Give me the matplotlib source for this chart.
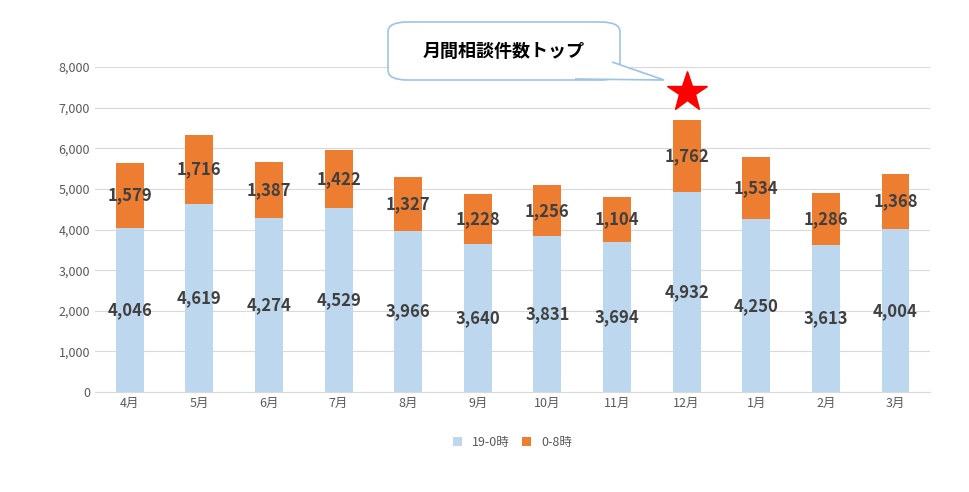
import matplotlib
matplotlib.use("Agg")
import matplotlib.pyplot as plt
from matplotlib.patches import FancyBboxPatch, Polygon
import numpy as np

plt.rcParams["font.family"] = ["Noto Sans CJK JP", "DejaVu Sans"]

months = ["4月", "5月", "6月", "7月", "8月", "9月", "10月", "11月", "12月", "1月", "2月", "3月"]
evening = [4046, 4619, 4274, 4529, 3966, 3640, 3831, 3694, 4932, 4250, 3613, 4004]
night = [1579, 1716, 1387, 1422, 1327, 1228, 1256, 1104, 1762, 1534, 1286, 1368]

BLUE = "#BDD7EE"
ORANGE = "#ED7D31"
TXT = "#404040"

fig = plt.figure(figsize=(9.69, 4.92), dpi=100)
ax = fig.add_axes([0.098, 0.203, 0.862, 0.661])
x = np.arange(len(months))
ax.bar(x, evening, width=0.4, color=BLUE, label="19-0時", zorder=2)
ax.bar(x, night, width=0.4, bottom=evening, color=ORANGE, label="0-8時", zorder=2)

for xi, e, n in zip(x, evening, night):
    ax.text(xi, e / 2, f"{e:,}", ha="center", va="center", fontsize=12, fontweight="bold", color=TXT)
    ax.text(xi, e + n / 2, f"{n:,}", ha="center", va="center", fontsize=12, fontweight="bold", color=TXT)

ax.set_ylim(0, 8000)
ax.set_xlim(-0.5, len(months) - 0.5)
ax.set_yticks(range(0, 8001, 1000))
ax.set_yticklabels([f"{v:,}" for v in range(0, 8001, 1000)], fontsize=9, color="#595959")
ax.set_xticks(x)
ax.set_xticklabels(months, fontsize=9, color="#595959")
ax.tick_params(length=0)
ax.grid(axis="y", color="#D9D9D9", linewidth=0.8, zorder=0)
for s in ["top", "right", "left"]:
    ax.spines[s].set_visible(False)
ax.spines["bottom"].set_color("#D9D9D9")

# star above the top month
top = int(np.argmax(np.array(evening) + np.array(night)))
ax.plot(top, evening[top] + night[top] + 700, marker="*", color="red", markersize=30, clip_on=False, zorder=5)

# callout
box = FancyBboxPatch((388 / 969, 1 - 80 / 492), 232 / 969, 58 / 492,
                     boxstyle="round,pad=0,rounding_size=0.02", transform=fig.transFigure,
                     facecolor="white", edgecolor="#9DC3E6", linewidth=1.2)
fig.patches.append(box)
tail = Polygon([(575 / 969, 1 - 79 / 492), (664 / 969, 1 - 80 / 492), (612 / 969, 1 - 62 / 492)],
               closed=False, transform=fig.transFigure, facecolor="white", edgecolor="#9DC3E6", linewidth=1.2)
fig.patches.append(tail)
fig.text(504 / 969, 1 - 51 / 492, "月間相談件数トップ", ha="center", va="center",
         fontsize=13, fontweight="bold", color="black")

ax.legend(loc="upper center", bbox_to_anchor=(0.5, -0.1), ncol=2, frameon=False,
          fontsize=9, handlelength=0.7, handleheight=0.7, columnspacing=1.0, labelcolor="#595959")

fig.savefig("out.png", dpi=100, facecolor="white")
